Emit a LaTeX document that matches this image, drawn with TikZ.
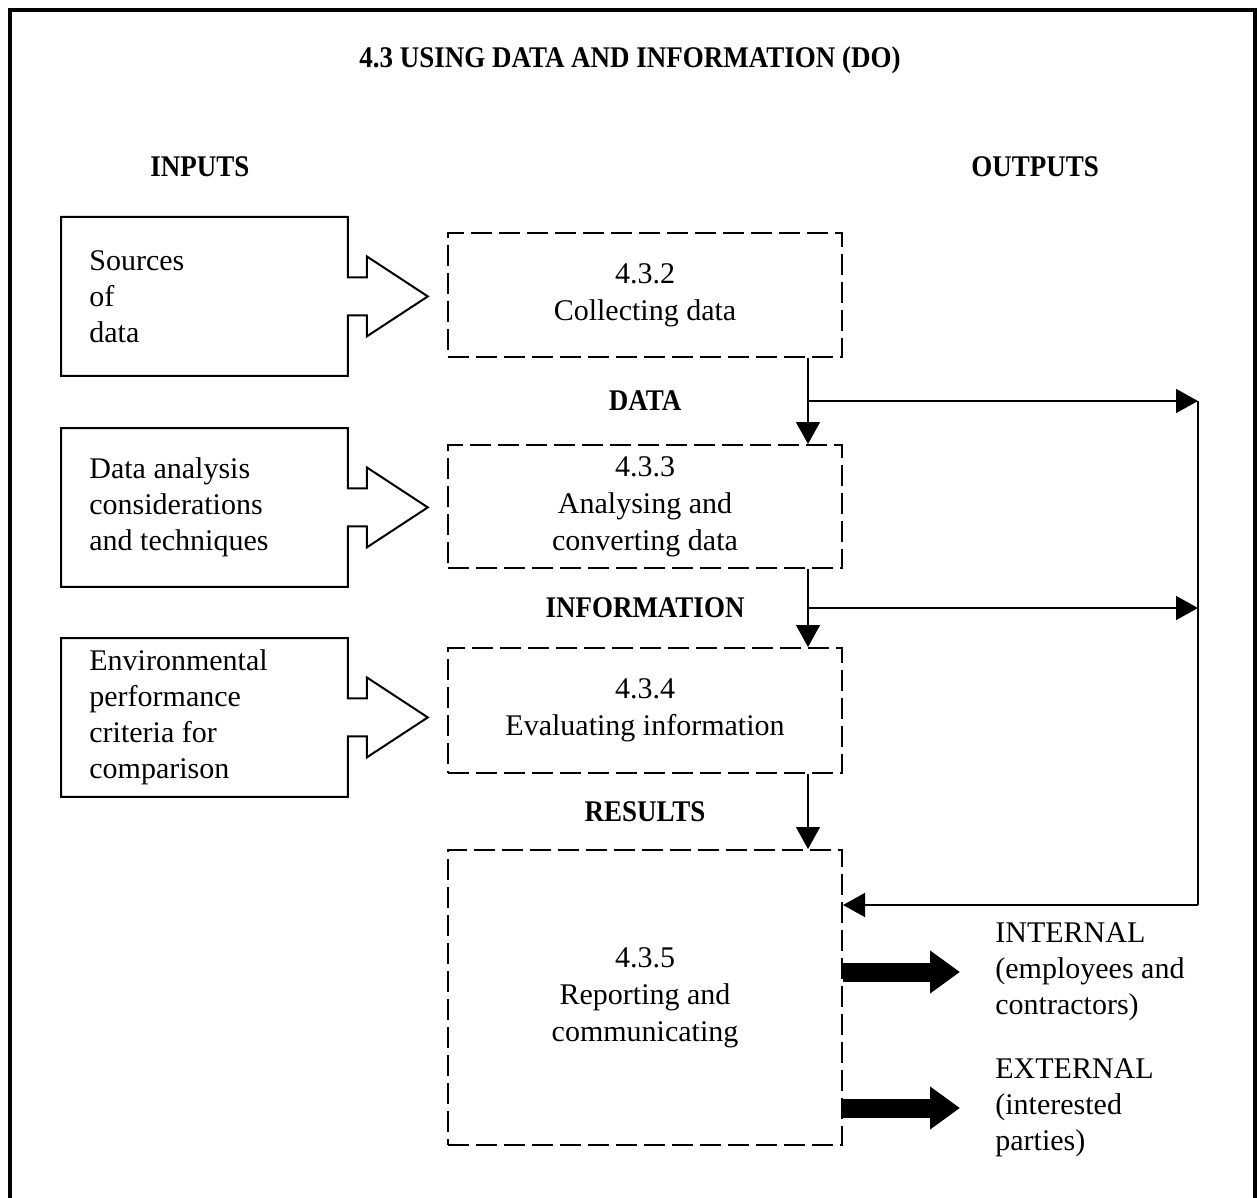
\documentclass[tikz,border=0pt]{standalone}
\usepackage{fontspec}
\setmainfont{Liberation Serif}[BoldFeatures={FakeStretch=0.9}]
\usetikzlibrary{arrows.meta,calc}

\begin{document}
\begin{tikzpicture}[x=0.5pt,y=-0.5pt]
  \newcommand{\Xin}[0]{ 61 }
  \newcommand{\Xproc}[0]{ 645 }
  \newcommand{\Xbus}[0]{ 1198 }
  \newcommand{\Xout}[0]{ 995 }
  \newcommand{\tapshift}[0]{ 17.5pt }

  \tikzstyle{edge}    = [line width=0.75pt,draw=black]
  \tikzstyle{dedge}   = [line width=0.75pt,-{Triangle[length=11pt,width=12pt]},draw=black]
  \tikzstyle{fatedge} = [line width=9.5pt,-{Triangle[length=15pt,width=20.5pt]},draw=black]
  \tikzstyle{inblock}=[
    rectangle,
    anchor=north west,
    minimum width=143pt,
    minimum height=79pt,
    inner sep=0pt,
  ]
  \tikzstyle{intext}=[
    anchor=west,
    align=left,
    inner sep=0pt,
    font=\fontsize{15}{18}\selectfont,
  ]
  \tikzstyle{procblock}=[
    rectangle,
    draw=black,
    line width=1pt,
    dash pattern=on 10.5pt off 3.5pt,
    anchor=center,
    align=center,
    minimum width=197pt,
    font=\fontsize{15}{18.5}\selectfont,
  ]
  \tikzstyle{heading}=[
    inner sep=0pt,
    font=\fontsize{15}{18}\selectfont\bfseries,
  ]

  % #1: prefix
  % #2: north west corner
  % #3: text
  \newcommand{\buildInputBlock}[3]{
    \node[inblock] (#1) at (#2) {};
    \node[intext] (#1 text) at ([xshift=14pt]#1.west) {#3};
    \draw[line width=1pt,line join=miter]
       ([yshift= 9.5pt]#1.east)
    -- (#1.north east)
    -- (#1.north west)
    -- (#1.south west)
    -- (#1.south east)
    -- ([yshift=-9.5pt]#1.east)
    -- ([xshift=9.5pt,yshift=-9.5pt]#1.east)
    -- ([xshift=9.5pt,yshift=-20pt]#1.east)
    -- ([xshift=40pt]#1.east)
    -- ([xshift=9.5pt,yshift=20pt]#1.east)
    -- ([xshift=9.5pt,yshift=9.5pt]#1.east)
    -- cycle;
  }

  \useasboundingbox (0,0) rectangle (1257,1198);

  % frame
  \draw[line width=2pt] (9.5,1215) -- (9.5,10) -- (1255,10) -- (1255,1215);

  % headings
  \node[heading] (title)   at (630,60)   {4.3 USING DATA AND INFORMATION (DO)};
  \node[heading] (inputs)  at (200,167)  {INPUTS};
  \node[heading] (outputs) at (1035,167) {OUTPUTS};

  % inputs
  \buildInputBlock{src}{\Xin, 217}{Sources\\of\\data}
  \buildInputBlock{tech}{\Xin, 428}{Data analysis\\considerations\\and techniques}
  \buildInputBlock{crit}{\Xin, 638}{Environmental\\performance\\criteria for\\comparison}

  % process steps
  \node[procblock, minimum height=62pt]    (collect)  at (\Xproc, 295)   {4.3.2\\Collecting data};
  \node[procblock, minimum height=61.5pt]  (analyse)  at (\Xproc, 506.5) {4.3.3\\Analysing and\\converting data};
  \node[procblock, minimum height=62.5pt]  (evaluate) at (\Xproc, 710.5) {4.3.4\\Evaluating information};
  \node[procblock, minimum height=147.5pt] (report)   at (\Xproc, 997.5) {4.3.5\\Reporting and\\communicating};

  % flow labels
  \node[heading] (data)    at ($(collect.south)!0.5!(analyse.north)$)  {DATA};
  \node[heading] (info)    at ($(analyse.south)!0.5!(evaluate.north)$) {INFORMATION};
  \node[heading] (results) at ($(evaluate.south)!0.5!(report.north)$)  {RESULTS};

  % outputs
  \node[intext] (internal) at (\Xout, 972)  {INTERNAL\\(employees and\\contractors)};
  \node[intext] (external) at (\Xout, 1108) {EXTERNAL\\(interested\\parties)};

  % wiring
  \coordinate (tap) at ([xshift=-\tapshift]collect.south east);
  \coordinate (bus) at (\Xbus, 905);
  \draw[dedge] (tap) -- (tap |- analyse.north);
  \draw[dedge] (tap |- analyse.south) -- (tap |- evaluate.north);
  \draw[dedge] (tap |- evaluate.south) -- (tap |- report.north);
  \draw[dedge] (tap |- data) -- (bus |- data);
  \draw[dedge] (tap |- info) -- (bus |- info);
  \draw[edge] (bus |- data) -- (bus);
  \draw[dedge] (bus) -- (bus -| report.east);
  \draw[fatedge] (report.east |- internal.west) -- ([xshift=-17.5pt]internal.west);
  \draw[fatedge] (report.east |- external.west) -- ([xshift=-17.5pt]external.west);
\end{tikzpicture}
\end{document}
